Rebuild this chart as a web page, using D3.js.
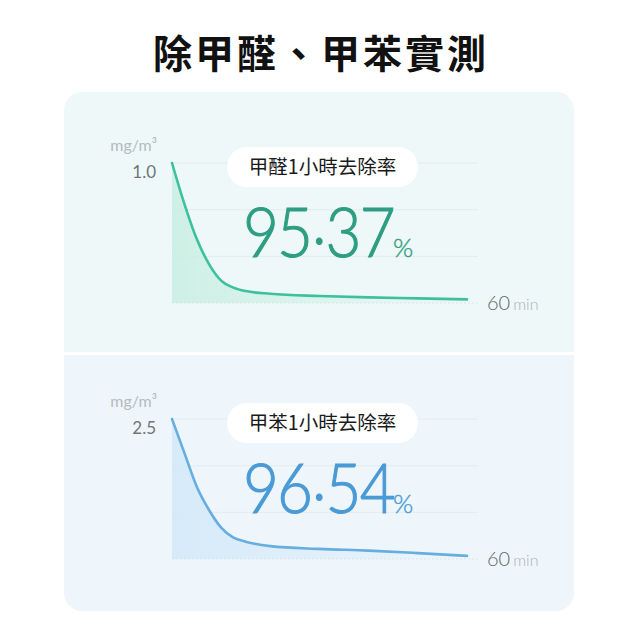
<!DOCTYPE html>
<html lang="zh-Hant">
<head>
  <meta charset="UTF-8">
  <title>除甲醛、甲苯實測</title>
  <script src="https://d3js.org/d3.v7.min.js"></script>
  <style>
    html, body { margin: 0; padding: 0; background: #fff; }
  </style>
</head>
<body>
  <div class="canvas"></div>
  <script>
    // minutes
    const times = [0, 2.5, 5, 7.5, 10, 12.5, 15, 20, 30, 40, 50, 60];
    // mg/m3
    const hchoValues    = [1.0, 0.71, 0.46, 0.28, 0.16, 0.11, 0.085, 0.066, 0.05, 0.04, 0.033, 0.026];
    const tolueneValues = [2.5, 1.9, 1.3, 0.88, 0.56, 0.38, 0.31, 0.23, 0.18, 0.15, 0.105, 0.055];
    const yMaxLabels = ['1.0', '2.5'];
    const rateLabels = ['95.37', '96.54'];
    const pillLabels = ['甲醛1小時去除率', '甲苯1小時去除率'];
    const unitLabel = 'mg/m³';
    const xEndLabel = ['60', 'min'];

    const panels = [
      { values: hchoValues, max: 1.0, yLabel: yMaxLabels[0], rate: rateLabels[0], pill: pillLabels[0],
        top: 92, bottom: 352, bg: '#eef8f8', line: '#3cc09e', fill: '#c9eee2', num: '#2e9e82' },
      { values: tolueneValues, max: 2.5, yLabel: yMaxLabels[1], rate: rateLabels[1], pill: pillLabels[1],
        top: 355, bottom: 611, bg: '#eef6fc', line: '#66ade0', fill: '#d2e8f8', num: '#4a9ad6' }
    ];

    const W = 640, H = 640;
    const svg = d3.select('.canvas')
      .append('svg')
      .attr('width', W)
      .attr('height', H);

    const defs = svg.append('defs');

    // outer card clip so the two halves share rounded corners
    defs.append('clipPath').attr('id', 'card')
      .append('rect')
      .attr('x', 64).attr('y', 92)
      .attr('width', 510).attr('height', 519)
      .attr('rx', 18);

    svg.append('text')
      .attr('x', 321).attr('y', 68)
      .attr('text-anchor', 'middle')
      .attr('font-family', '"Noto Sans CJK TC", "Noto Sans CJK SC", sans-serif')
      .attr('font-weight', 700)
      .attr('font-size', 39)
      .attr('letter-spacing', 3)
      .attr('fill', '#111')
      .text('除甲醛、甲苯實測');

    const x = d3.scaleLinear().domain([0, 60]).range([172, 467]);

    const card = svg.append('g').attr('clip-path', 'url(#card)');

    panels.forEach((p, i) => {
      const off = i === 0 ? 0 : 256;
      const y = d3.scaleLinear().domain([0, p.max]).range([303 + off, 163 + off]);
      const pts = times.map((t, k) => [t, p.values[k]]);

      card.append('rect')
        .attr('x', 64).attr('y', p.top)
        .attr('width', 510).attr('height', p.bottom - p.top)
        .attr('fill', p.bg);

      const g = svg.append('g');

      // faint grid
      const grid = [p.max, p.max * 2 / 3, p.max / 3];
      g.selectAll('.grid')
        .data(grid)
        .enter()
        .append('line')
        .attr('x1', x(0)).attr('x2', 478)
        .attr('y1', d => y(d)).attr('y2', d => y(d))
        .attr('stroke', '#e2ecee')
        .attr('stroke-width', 1);

      g.append('line')
        .attr('x1', x(0)).attr('x2', 478)
        .attr('y1', y(0)).attr('y2', y(0))
        .attr('stroke', '#dde6e8')
        .attr('stroke-dasharray', '2,2')
        .attr('stroke-width', 1);

      const gid = 'fade' + i;
      const grad = defs.append('linearGradient').attr('id', gid)
        .attr('x1', '0%').attr('x2', '100%').attr('y1', '0%').attr('y2', '0%');
      grad.append('stop').attr('offset', '0%').attr('stop-color', p.fill).attr('stop-opacity', 0.85);
      grad.append('stop').attr('offset', '60%').attr('stop-color', p.fill).attr('stop-opacity', 0.4);
      grad.append('stop').attr('offset', '100%').attr('stop-color', p.fill).attr('stop-opacity', 0);

      const area = d3.area()
        .x(d => x(d[0]))
        .y0(y(0))
        .y1(d => y(d[1]))
        .curve(d3.curveMonotoneX);

      g.append('path')
        .datum(pts)
        .attr('d', area)
        .attr('fill', `url(#${gid})`);

      const line = d3.line()
        .x(d => x(d[0]))
        .y(d => y(d[1]))
        .curve(d3.curveMonotoneX);

      g.append('path')
        .datum(pts)
        .attr('d', line)
        .attr('fill', 'none')
        .attr('stroke', p.line)
        .attr('stroke-width', 2.6)
        .attr('stroke-linecap', 'round');

      // axis labels
      g.append('text')
        .attr('x', 157).attr('y', y(p.max) - 12)
        .attr('text-anchor', 'end')
        .attr('font-family', 'Lato, sans-serif')
        .attr('font-size', 16)
        .attr('fill', '#b4bcbe')
        .text(unitLabel);

      g.append('text')
        .attr('x', 156).attr('y', y(p.max) + 15)
        .attr('text-anchor', 'end')
        .attr('font-family', 'Lato, sans-serif')
        .attr('font-size', 17)
        .attr('fill', '#6f7678')
        .text(p.yLabel);

      const xl = g.append('text')
        .attr('x', 487).attr('y', y(0) + 7)
        .attr('font-family', 'Lato, sans-serif');
      xl.append('tspan')
        .attr('font-size', 20).attr('font-weight', 300)
        .attr('fill', '#5f6668')
        .text(xEndLabel[0]);
      xl.append('tspan')
        .attr('dx', 3)
        .attr('font-size', 16).attr('font-weight', 300)
        .attr('fill', '#aab2b4')
        .text(xEndLabel[1]);

      // pill label
      const pillY = 147 + off;
      g.append('rect')
        .attr('x', 227).attr('y', pillY)
        .attr('width', 191).attr('height', 40)
        .attr('rx', 20)
        .attr('fill', '#fff');

      g.append('text')
        .attr('x', 322.5).attr('y', pillY + 27)
        .attr('text-anchor', 'middle')
        .attr('font-family', '"Noto Sans CJK TC", sans-serif')
        .attr('font-size', 19.5)
        .attr('fill', '#1a1a1a')
        .text(p.pill);

      // big rate number, squeezed to the reference width
      const parts = p.rate.split('.');
      const base = 257 + off;
      const num = g.append('text')
        .attr('font-family', 'Lato, sans-serif')
        .attr('font-weight', 300)
        .attr('font-size', 68)
        .attr('letter-spacing', -2)
        .attr('fill', p.num)
        .attr('stroke', p.num)
        .attr('stroke-width', 1.1);
      num.append('tspan').text(parts[0]);
      num.append('tspan').attr('dy', -13).attr('dx', 1).text('.');
      num.append('tspan').attr('dy', 13).attr('dx', 1).text(parts[1]);
      const w = num.node().getComputedTextLength();
      const k = 149 / w;
      num.attr('transform', `translate(243,${base}) scale(${k},1)`);

      g.append('text')
        .attr('x', 243 + 149 + 1).attr('y', base)
        .attr('font-family', 'Lato, sans-serif')
        .attr('font-weight', 300)
        .attr('font-size', 26)
        .attr('fill', p.num)
        .attr('stroke', p.num)
        .attr('stroke-width', 0.4)
        .text('%');
    });

    // white gap between the two panels
    svg.append('rect')
      .attr('x', 64).attr('y', 352)
      .attr('width', 510).attr('height', 3)
      .attr('fill', '#fff');
  </script>
</body>
</html>
